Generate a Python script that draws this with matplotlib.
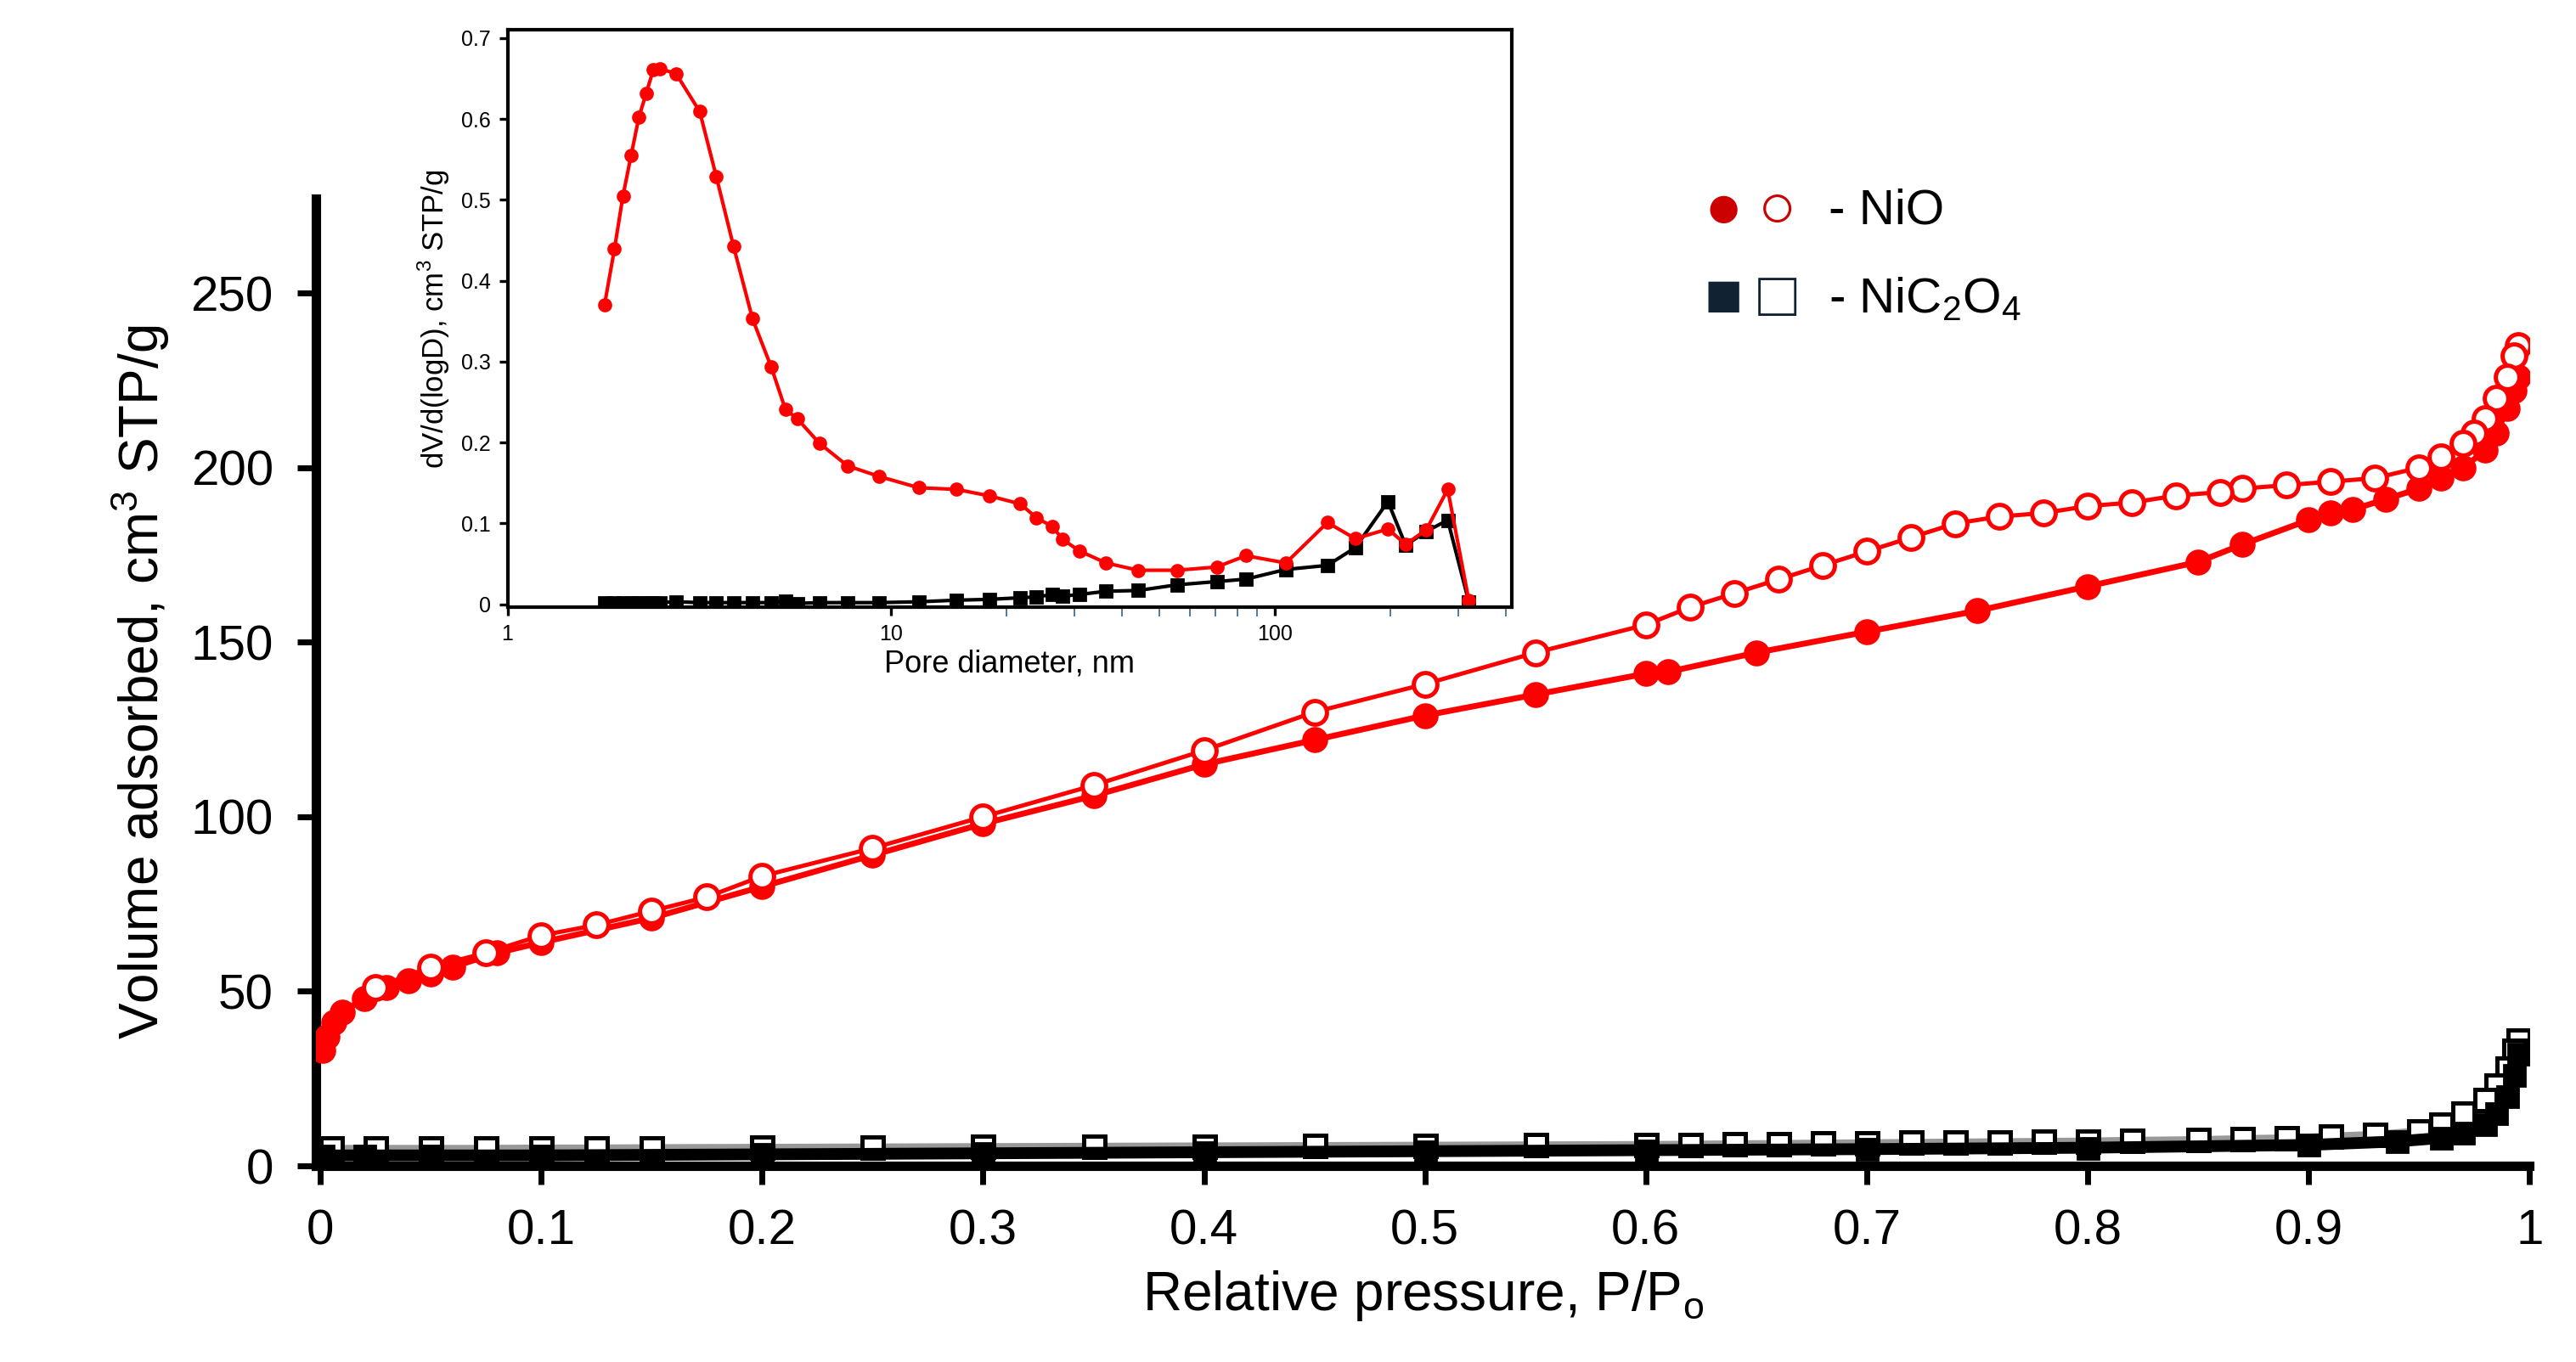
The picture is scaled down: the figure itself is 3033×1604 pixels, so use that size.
import matplotlib.pyplot as plt
from matplotlib.ticker import FixedLocator, NullFormatter

plt.rcParams['font.family'] = ['Liberation Sans', 'DejaVu Sans']

# NiO isotherm
nio_ads_p = [0.001, 0.003, 0.006, 0.01, 0.02, 0.03, 0.04, 0.05, 0.06, 0.08, 0.1, 0.15, 0.2, 0.25, 0.3,
             0.35, 0.4, 0.45, 0.5, 0.55, 0.6, 0.61, 0.65, 0.7, 0.75, 0.8, 0.85, 0.87, 0.9, 0.91, 0.92,
             0.935, 0.95, 0.96, 0.97, 0.98, 0.985, 0.99, 0.993, 0.995]
nio_ads_v = [33, 37, 41, 44, 48, 51, 53, 55, 57, 61, 64, 71, 80, 89, 98,
             106, 115, 122, 129, 135, 141, 141.5, 147, 153, 159, 166, 173, 178, 185, 187, 188,
             191, 194, 197, 200, 205, 210, 217, 222, 226]
nio_des_p = [0.995, 0.993, 0.99, 0.985, 0.98, 0.975, 0.97, 0.96, 0.95, 0.93, 0.91, 0.89, 0.87, 0.86,
             0.84, 0.82, 0.8, 0.78, 0.76, 0.74, 0.72, 0.7, 0.68, 0.66, 0.64, 0.62, 0.6, 0.55, 0.5,
             0.45, 0.4, 0.35, 0.3, 0.25, 0.2, 0.175, 0.15, 0.125, 0.1, 0.075, 0.05, 0.025]
nio_des_v = [235, 232, 226, 220, 214, 210, 207, 203, 200, 197, 196, 195, 194, 193,
             192, 190, 189, 187, 186, 184, 180, 176, 172, 168, 164, 160, 155, 147, 138,
             130, 119, 109, 100, 91, 83, 77, 73, 69, 66, 61, 57, 51]

# NiC2O4 isotherm
nic_ads_p = [0.001, 0.02, 0.05, 0.1, 0.2, 0.3, 0.4, 0.5, 0.6, 0.7, 0.8, 0.9, 0.94, 0.96, 0.97,
             0.98, 0.985, 0.99, 0.993, 0.995]
nic_ads_v = [3, 3, 3, 3, 3.3, 3.6, 3.9, 4.2, 4.5, 4.8, 5.2, 6, 7, 8, 9.5, 12, 15, 20, 26, 32]
nic_des_p = [0.995, 0.993, 0.99, 0.985, 0.98, 0.97, 0.96, 0.95, 0.93, 0.91, 0.89, 0.87, 0.85,
             0.82, 0.8, 0.78, 0.76, 0.74, 0.72, 0.7, 0.68, 0.66, 0.64, 0.62, 0.6, 0.55, 0.5,
             0.45, 0.4, 0.35, 0.3, 0.25, 0.2, 0.15, 0.125, 0.1, 0.075, 0.05, 0.025, 0.005]
nic_des_v = [36, 33, 28, 23, 19, 15, 12, 10, 9, 8.5, 8, 7.8, 7.5, 7.3, 7.1, 7, 6.9, 6.8, 6.7,
             6.6, 6.5, 6.4, 6.3, 6.2, 6.1, 6, 5.9, 5.8, 5.7, 5.6, 5.5, 5.4, 5.3, 5.2, 5.1, 5.1,
             5, 5, 5, 5]

# pore size distribution (inset)
psd_d = [1.79, 1.9, 2.0, 2.1, 2.2, 2.3, 2.4, 2.5, 2.75, 3.17, 3.5, 3.88, 4.35, 4.87, 5.3,
         5.7, 6.5, 7.7, 9.3, 11.8, 14.8, 18.0, 21.7, 23.9, 26.3, 28, 30.9, 36.3, 44, 55.6,
         70.5, 84, 106.8, 137, 162, 197, 219, 248, 282, 320]
psd_nio = [0.37, 0.439, 0.505, 0.555, 0.602, 0.632, 0.661, 0.662, 0.656, 0.609, 0.529, 0.443,
           0.353, 0.293, 0.241, 0.229, 0.199, 0.171, 0.158, 0.144, 0.142, 0.134, 0.124, 0.107,
           0.096, 0.08, 0.066, 0.051, 0.042, 0.042, 0.046, 0.06, 0.051, 0.101, 0.081, 0.093,
           0.074, 0.092, 0.142, 0.005]
psd_nic = [0.002, 0.002, 0.002, 0.002, 0.002, 0.002, 0.002, 0.002, 0.003, 0.002, 0.002, 0.002,
           0.002, 0.002, 0.004, 0.001, 0.002, 0.002, 0.002, 0.003, 0.005, 0.006, 0.008, 0.009,
           0.012, 0.01, 0.012, 0.016, 0.017, 0.024, 0.028, 0.031, 0.043, 0.048, 0.07, 0.127,
           0.073, 0.09, 0.104, 0.003]

RED = '#ff0000'
fig = plt.figure(figsize=(15.165, 8.02), dpi=200)

ax = fig.add_axes([0.1226, 0.144, 0.8594, 0.71])
ax.plot(nic_des_p, nic_des_v, '-', color='#999999', lw=3, marker='s', ms=9, mfc='white',
        mec='black', mew=1.8, zorder=3)
ax.plot(nic_ads_p, nic_ads_v, '-', color='black', lw=5, marker='s', ms=9, mfc='black',
        mec='black', zorder=4)
ax.plot(nio_ads_p, nio_ads_v, '-', color=RED, lw=2.5, marker='o', ms=10, mfc=RED, mec=RED, zorder=5)
ax.plot(nio_des_p, nio_des_v, '-', color=RED, lw=1.8, marker='o', ms=10, mfc='white', mec=RED,
        mew=1.8, zorder=6)
ax.set_xlim(-0.002, 1.0)
ax.set_ylim(0, 277)
ax.set_yticks([0, 50, 100, 150, 200, 250])
ax.set_xticks([0, 0.1, 0.2, 0.3, 0.4, 0.5, 0.6, 0.7, 0.8, 0.9, 1])
ax.set_xticklabels(['0', '0.1', '0.2', '0.3', '0.4', '0.5', '0.6', '0.7', '0.8', '0.9', '1'])
for s in ['top', 'right']:
    ax.spines[s].set_visible(False)
ax.spines['left'].set_linewidth(4)
ax.spines['bottom'].set_linewidth(4)
ax.tick_params(labelsize=21, width=2.5, length=8, pad=10)
ax.set_xlabel('Relative pressure, P/P$_\\mathregular{o}$', fontsize=23, labelpad=6)
ax.set_ylabel('Volume adsorbed, cm$^\\mathregular{3}$ STP/g', fontsize=23, labelpad=8)

# legend
fig.text(0.669, 0.845, '●', color='#cc0000', fontsize=27, ha='center', va='center')
fig.text(0.690, 0.845, '○', color='#cc0000', fontsize=27, ha='center', va='center')
fig.text(0.710, 0.845, '- NiO', fontsize=21, va='center')
fig.text(0.669, 0.78, '■', color='#112233', fontsize=27, ha='center', va='center')
fig.text(0.690, 0.78, '□', color='#112233', fontsize=27, ha='center', va='center')
fig.text(0.710, 0.78, '- NiC$_\\mathregular{2}$O$_\\mathregular{4}$', fontsize=21, va='center')

# inset
ins = fig.add_axes([0.197, 0.554, 0.39, 0.424])
ins.plot(psd_d, psd_nic, '-', color='black', lw=1.5, marker='s', ms=5)
ins.plot(psd_d, psd_nio, '-', color=RED, lw=1.5, marker='o', ms=5)
ins.set_xscale('log')
ins.set_xlim(1, 415)
ins.set_ylim(-0.004, 0.71)
ins.set_yticks([0, 0.1, 0.2, 0.3, 0.4, 0.5, 0.6, 0.7])
ins.set_yticklabels(['0', '0.1', '0.2', '0.3', '0.4', '0.5', '0.6', '0.7'])
ins.xaxis.set_major_locator(FixedLocator([1, 10, 100]))
ins.set_xticklabels(['1', '10', '100'])
ins.xaxis.set_minor_locator(FixedLocator([20, 30, 40, 50, 60, 70, 80, 90, 200, 300, 400]))
ins.xaxis.set_minor_formatter(NullFormatter())
ins.tick_params(labelsize=9, width=1.2)
ins.tick_params(axis='x', which='minor', length=4, color='#336688')
for s in ins.spines.values():
    s.set_linewidth(1.5)
ins.set_xlabel('Pore diameter, nm', fontsize=13, labelpad=2)
ins.set_ylabel('dV/d(logD), cm$^\\mathregular{3}$ STP/g', fontsize=12.5)

fig.savefig('out.png', dpi=200)
